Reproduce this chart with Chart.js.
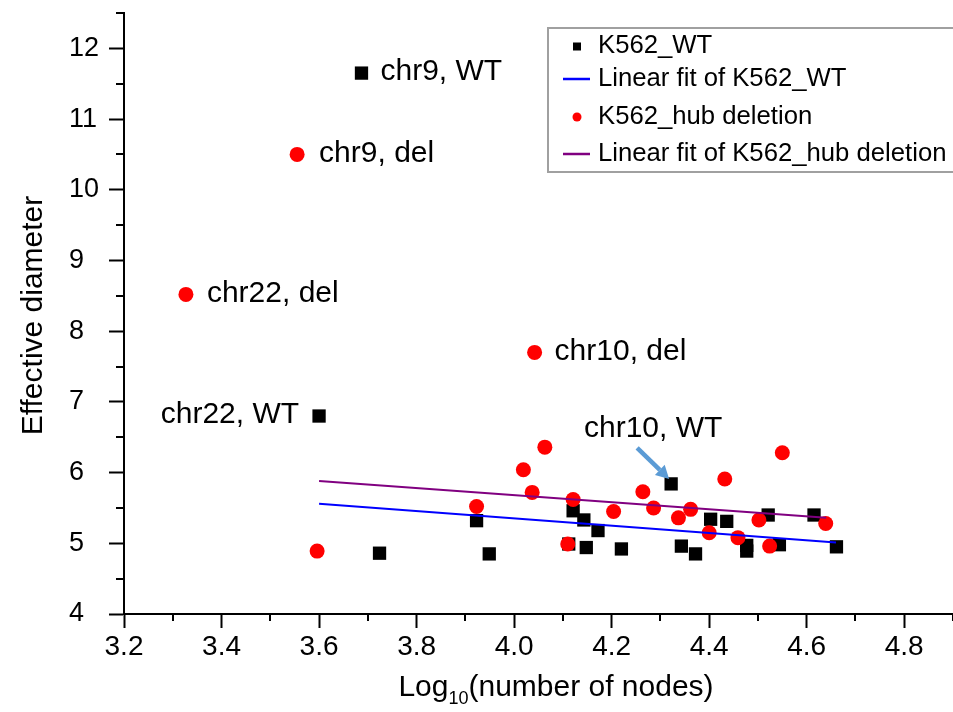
<!DOCTYPE html>
<html>
<head>
<meta charset="utf-8">
<script src="https://cdn.jsdelivr.net/npm/chart.js@4/dist/chart.umd.min.js"></script>
<style>
  html, body { margin: 0; padding: 0; background: #fff; }
  #wrap { width: 953px; height: 712px; }
</style>
</head>
<body>
<div id="wrap"><canvas id="chart_diameter"></canvas></div>
<script>
// K562_WT, black squares
var wtNodes    = [3.687, 3.600, 4.322, 3.724, 3.923, 3.949, 4.121, 4.143, 4.172, 4.112, 4.148,
                  4.220, 4.343, 4.372, 4.403, 4.436, 4.477, 4.477, 4.521, 4.544, 4.615, 4.661];
var wtDiameter = [11.65, 6.80, 5.84, 4.86, 5.32, 4.85, 5.46, 5.33, 5.18, 4.99, 4.94,
                  4.92, 4.96, 4.85, 5.34, 5.31, 4.97, 4.89, 5.40, 4.98, 5.40, 4.95];

// K562_hub deletion, red circles
var delNodes    = [3.555, 3.327, 4.042, 3.596, 4.063, 4.019, 4.037, 3.923, 4.121, 4.110, 4.204,
                   4.264, 4.286, 4.337, 4.362, 4.432, 4.400, 4.459, 4.502, 4.524, 4.550, 4.639];
var delDiameter = [10.50, 8.52, 7.70, 4.89, 6.36, 6.04, 5.72, 5.52, 5.62, 4.99, 5.45,
                   5.73, 5.50, 5.36, 5.48, 5.91, 5.15, 5.08, 5.33, 4.96, 6.28, 5.28];

// linear fits (end points)
var wtFitNodes     = [3.60, 4.66];
var wtFitDiameter  = [5.56, 5.01];
var delFitNodes    = [3.60, 4.64];
var delFitDiameter = [5.88, 5.36];

// axis ticks
var xTickValues  = [3.2, 3.4, 3.6, 3.8, 4.0, 4.2, 4.4, 4.6, 4.8];
var xMinorValues = [3.3, 3.5, 3.7, 3.9, 4.1, 4.3, 4.5, 4.7, 4.9];
var yTickValues  = [4, 5, 6, 7, 8, 9, 10, 11, 12];
var yMinorValues = [4.5, 5.5, 6.5, 7.5, 8.5, 9.5, 10.5, 11.5, 12.5];

// point annotations: text, series, point index
var noteTexts  = ['chr9, WT', 'chr22, WT', 'chr10, WT', 'chr9, del', 'chr22, del', 'chr10, del'];
var noteSeries = [0, 0, 0, 2, 2, 2];
var noteIndex  = [0, 1, 2, 0, 1, 2];

// where each note sits relative to its point
var notePlacement = [
    { dx: 19, dy: -1, align: 'left' },
    { dx: -20, dy: -1, align: 'right' },
    { dx: -18, dy: -55, align: 'center' },
    { dx: 22, dy: -1, align: 'left' },
    { dx: 21, dy: -1, align: 'left' },
    { dx: 20, dy: -1, align: 'left' }
];

const FONT = "'Liberation Sans', Arial, sans-serif";

function toPoints(xs, ys) {
    return xs.map((x, i) => ({ x: x, y: ys[i] }));
}

const decorations = {
    id: 'decorations',
    afterDraw(chart) {
        const ctx = chart.ctx;
        const xs = chart.scales.x;
        const ys = chart.scales.y;
        const area = chart.chartArea;
        ctx.save();

        // minor ticks
        ctx.strokeStyle = '#000';
        ctx.lineWidth = 2;
        xMinorValues.forEach(v => {
            const px = Math.round(xs.getPixelForValue(v));
            ctx.beginPath();
            ctx.moveTo(px, area.bottom);
            ctx.lineTo(px, area.bottom + 7);
            ctx.stroke();
        });
        yMinorValues.forEach(v => {
            const py = Math.round(ys.getPixelForValue(v));
            ctx.beginPath();
            ctx.moveTo(area.left - 8, py);
            ctx.lineTo(area.left, py);
            ctx.stroke();
        });

        // axis titles
        ctx.fillStyle = '#000';
        ctx.font = '30px ' + FONT;
        ctx.save();
        ctx.translate(34, (area.top + area.bottom) / 2 + 2);
        ctx.rotate(-Math.PI / 2);
        ctx.textAlign = 'center';
        ctx.textBaseline = 'middle';
        ctx.fillText('Effective diameter', 0, 0);
        ctx.restore();

        ctx.textBaseline = 'alphabetic';
        ctx.textAlign = 'left';
        const partA = 'Log', partB = '10', partC = '(number of nodes)';
        ctx.font = '30px ' + FONT;
        const wA = ctx.measureText(partA).width;
        const wC = ctx.measureText(partC).width;
        ctx.font = '18px ' + FONT;
        const wB = ctx.measureText(partB).width;
        let tx = 556 - (wA + wB + wC) / 2;
        const base = 696;
        ctx.font = '30px ' + FONT;
        ctx.fillText(partA, tx, base);
        tx += wA;
        ctx.font = '18px ' + FONT;
        ctx.fillText(partB, tx, base + 8);
        tx += wB;
        ctx.font = '30px ' + FONT;
        ctx.fillText(partC, tx, base);

        // point notes
        ctx.font = '30px ' + FONT;
        ctx.textBaseline = 'middle';
        noteTexts.forEach((text, i) => {
            const ds = chart.data.datasets[noteSeries[i]];
            const pt = ds.data[noteIndex[i]];
            const px = xs.getPixelForValue(pt.x);
            const py = ys.getPixelForValue(pt.y);
            const p = notePlacement[i];
            ctx.textAlign = p.align;
            ctx.fillText(text, px + p.dx, py + p.dy);
        });

        // arrow to chr10, WT
        const target = chart.data.datasets[0].data[2];
        const ax = xs.getPixelForValue(target.x);
        const ay = ys.getPixelForValue(target.y);
        const tipX = ax - 2, tipY = ay - 5;
        const tailX = ax - 34, tailY = ay - 36;
        const ang = Math.atan2(tipY - tailY, tipX - tailX);
        const headLen = 13, headHalf = 7;
        const neckX = tipX - headLen * Math.cos(ang), neckY = tipY - headLen * Math.sin(ang);
        ctx.strokeStyle = '#5b9bd5';
        ctx.fillStyle = '#5b9bd5';
        ctx.lineWidth = 4.5;
        ctx.beginPath();
        ctx.moveTo(tailX, tailY);
        ctx.lineTo(neckX, neckY);
        ctx.stroke();
        ctx.beginPath();
        ctx.moveTo(tipX, tipY);
        ctx.lineTo(neckX + headHalf * Math.sin(ang), neckY - headHalf * Math.cos(ang));
        ctx.lineTo(neckX - headHalf * Math.sin(ang), neckY + headHalf * Math.cos(ang));
        ctx.closePath();
        ctx.fill();

        // legend box
        ctx.fillStyle = '#fff';
        ctx.fillRect(548, 28, 420, 144);
        ctx.strokeStyle = '#a0a0a0';
        ctx.lineWidth = 2;
        ctx.strokeRect(548, 28, 420, 144);
        const rows = [46, 79, 116.5, 154];
        ctx.font = '25.7px ' + FONT;
        ctx.textAlign = 'left';
        ctx.textBaseline = 'middle';
        chart.data.datasets.forEach((ds, i) => {
            const y = rows[i];
            if (ds.showLine) {
                ctx.strokeStyle = ds.borderColor;
                ctx.lineWidth = 2.5;
                ctx.beginPath();
                ctx.moveTo(563, y);
                ctx.lineTo(590, y);
                ctx.stroke();
            } else if (ds.pointStyle === 'rect') {
                ctx.fillStyle = ds.backgroundColor;
                ctx.fillRect(573, y - 3.5, 8, 8);
            } else {
                ctx.fillStyle = ds.backgroundColor;
                ctx.beginPath();
                ctx.arc(577, y + 0.5, 4.5, 0, Math.PI * 2);
                ctx.fill();
            }
            ctx.fillStyle = '#000';
            ctx.fillText(ds.label, 598, y);
        });

        ctx.restore();
    }
};

var ctx_diameter = document.getElementById('chart_diameter').getContext('2d');

var chart_diameter = new Chart(ctx_diameter, {
    type: 'scatter',
    data: {
        datasets: [{
            label: 'K562_WT',
            data: toPoints(wtNodes, wtDiameter),
            pointStyle: 'rect',
            pointRadius: 9.4,
            backgroundColor: '#000000',
            borderWidth: 0,
            order: 4
        }, {
            label: 'Linear fit of K562_WT',
            data: toPoints(wtFitNodes, wtFitDiameter),
            showLine: true,
            pointRadius: 0,
            borderColor: '#0000ff',
            borderWidth: 2,
            order: 1
        }, {
            label: 'K562_hub deletion',
            data: toPoints(delNodes, delDiameter),
            pointStyle: 'circle',
            pointRadius: 7.5,
            backgroundColor: '#ff0000',
            borderWidth: 0,
            order: 3
        }, {
            label: 'Linear fit of K562_hub deletion',
            data: toPoints(delFitNodes, delFitDiameter),
            showLine: true,
            pointRadius: 0,
            borderColor: '#800080',
            borderWidth: 2,
            order: 2
        }]
    },
    options: {
        responsive: true,
        maintainAspectRatio: false,
        animation: false,
        layout: {
            autoPadding: false,
            padding: { top: 13, right: 0, left: 69, bottom: 0 }
        },
        plugins: {
            legend: { display: false },
            tooltip: { enabled: false }
        },
        scales: {
            x: {
                type: 'linear',
                min: 3.2,
                max: 4.9,
                afterFit: scale => {
                    scale.height = 98;
                    scale.paddingLeft = 0;
                    scale.paddingRight = 0;
                },
                afterBuildTicks: scale => { scale.ticks = xTickValues.map(v => ({ value: v })); },
                grid: { drawOnChartArea: false, tickLength: 14, tickWidth: 2, tickColor: '#000' },
                border: { color: '#000', width: 2 },
                ticks: {
                    color: '#000',
                    font: { family: FONT, size: 28 },
                    padding: 2,
                    maxRotation: 0,
                    autoSkip: false,
                    callback: value => value.toFixed(1)
                }
            },
            y: {
                type: 'linear',
                min: 4,
                max: 12.5,
                afterFit: scale => {
                    scale.width = 55;
                    scale.paddingTop = 0;
                    scale.paddingBottom = 0;
                },
                afterBuildTicks: scale => { scale.ticks = yTickValues.map(v => ({ value: v })); },
                grid: { drawOnChartArea: false, tickLength: 15, tickWidth: 2, tickColor: '#000' },
                border: { color: '#000', width: 2 },
                ticks: {
                    color: '#000',
                    font: { family: FONT, size: 27 },
                    padding: 10,
                    crossAlign: 'far',
                    autoSkip: false,
                    callback: value => String(value)
                }
            }
        }
    },
    plugins: [decorations]
});
</script>
</body>
</html>
